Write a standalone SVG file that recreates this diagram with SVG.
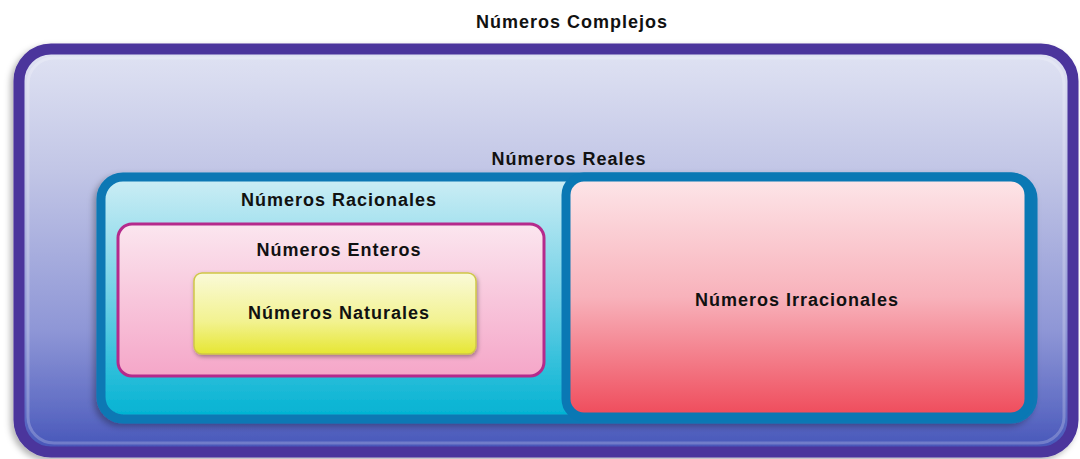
<svg xmlns="http://www.w3.org/2000/svg" width="1080" height="459" viewBox="0 0 1080 459">
<defs>
<style>
.lbl{font-family:"Liberation Sans",Arial,sans-serif;font-weight:bold;font-size:18px;letter-spacing:1px;fill:#111;text-anchor:middle}
</style>
<linearGradient id="gC" x1="0" y1="0" x2="0" y2="1">
<stop offset="0" stop-color="#e0e3f3"/>
<stop offset="0.3" stop-color="#c2c6e6"/>
<stop offset="0.7" stop-color="#8e96d6"/>
<stop offset="0.9" stop-color="#5f6cc4"/>
<stop offset="1" stop-color="#4454b8"/>
</linearGradient>
<linearGradient id="gR" x1="0" y1="0" x2="0" y2="1">
<stop offset="0" stop-color="#cdeef5"/>
<stop offset="0.5" stop-color="#6fd0e6"/>
<stop offset="1" stop-color="#00b2d2"/>
</linearGradient>
<linearGradient id="gI" x1="0" y1="0" x2="0" y2="1">
<stop offset="0" stop-color="#fde6e9"/>
<stop offset="0.5" stop-color="#f8b2bb"/>
<stop offset="1" stop-color="#ef4a5a"/>
</linearGradient>
<linearGradient id="gE" x1="0" y1="0" x2="0" y2="1">
<stop offset="0" stop-color="#fbe6ef"/>
<stop offset="1" stop-color="#f5a6c8"/>
</linearGradient>
<linearGradient id="gN" x1="0" y1="0" x2="0" y2="1">
<stop offset="0" stop-color="#fafad8"/>
<stop offset="0.6" stop-color="#f2f290"/>
<stop offset="1" stop-color="#e6e632"/>
</linearGradient>
<filter id="sh" x="-5%" y="-5%" width="110%" height="115%">
<feGaussianBlur in="SourceAlpha" stdDeviation="3"/>
<feOffset dx="-3" dy="3" result="b"/>
<feFlood flood-color="#000" flood-opacity="0.3"/>
<feComposite in2="b" operator="in"/>
<feMerge><feMergeNode/><feMergeNode in="SourceGraphic"/></feMerge>
</filter>
<filter id="sh2" x="-5%" y="-5%" width="110%" height="120%">
<feGaussianBlur in="SourceAlpha" stdDeviation="2"/>
<feOffset dx="1" dy="2" result="b"/>
<feFlood flood-color="#000" flood-opacity="0.35"/>
<feComposite in2="b" operator="in"/>
<feMerge><feMergeNode/><feMergeNode in="SourceGraphic"/></feMerge>
</filter>
</defs>
<rect width="1080" height="459" fill="#ffffff"/>
<g id="complejos">
<rect x="19" y="49" width="1054" height="403" rx="32" fill="url(#gC)" stroke="#4b359c" stroke-width="11" filter="url(#sh)"/>
<rect x="28" y="58" width="1036" height="385" rx="26" fill="none" stroke="#ffffff" stroke-opacity="0.22" stroke-width="3"/>
<text class="lbl" x="572" y="28">Números Complejos</text>
</g>
<g id="reales">
<rect x="101" y="177" width="932" height="242" rx="22" fill="url(#gR)" stroke="#0a78b4" stroke-width="9" filter="url(#sh)"/>
<text class="lbl" x="569" y="165">Números Reales</text>
</g>
<g id="racionales">
<text class="lbl" x="339" y="206">Números Racionales</text>
</g>
<g id="irracionales">
<rect x="566" y="177" width="463" height="240" rx="18" fill="url(#gI)" stroke="#0a78b4" stroke-width="9"/>
<text class="lbl" x="797" y="306">Números Irracionales</text>
</g>
<g id="enteros">
<rect x="118" y="224" width="426" height="152" rx="14" fill="url(#gE)" stroke="#b52a8c" stroke-width="3"/>
<text class="lbl" x="339" y="256">Números Enteros</text>
</g>
<g id="naturales">
<rect x="194" y="273" width="282" height="81" rx="8" fill="url(#gN)" stroke="#cfc648" stroke-width="1.5" filter="url(#sh2)"/>
<text class="lbl" x="339" y="319">Números Naturales</text>
</g>
<g id="connectors"/>
</svg>
